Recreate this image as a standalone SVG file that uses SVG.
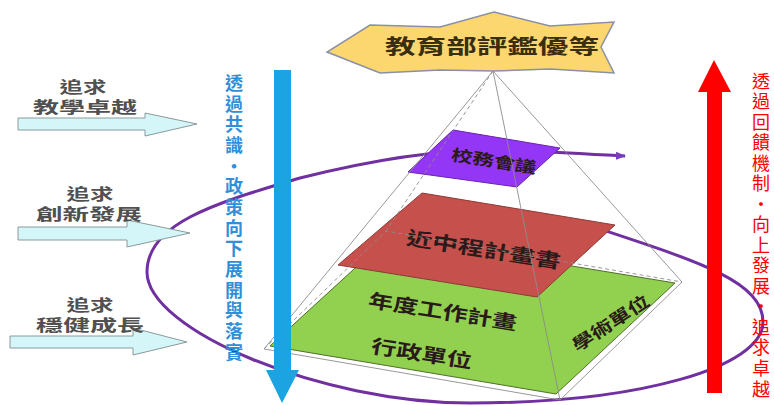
<svg xmlns="http://www.w3.org/2000/svg" width="774" height="405" viewBox="0 0 774 405">
<style>
.lbl{font-family:"Noto Sans CJK TC","Noto Sans CJK SC",sans-serif;font-weight:bold;fill:#505050;font-size:16px;text-anchor:middle;dominant-baseline:central}
.lay{font-family:"Noto Sans CJK TC","Noto Sans CJK SC",sans-serif;font-weight:bold;fill:#2a1a1a;text-anchor:middle;dominant-baseline:central}
.vb{font-family:"Noto Sans CJK TC","Noto Sans CJK SC",sans-serif;font-weight:bold;fill:#2f8fd8;font-size:18px;text-anchor:middle;dominant-baseline:central}
.vr{font-family:"Noto Sans CJK TC","Noto Sans CJK SC",sans-serif;fill:#ff0000;font-size:18px;text-anchor:middle;dominant-baseline:central}
.inarrow{fill:#d4f6f8;stroke:#8a9a9c;stroke-width:1}
.edge{fill:none;stroke:#8c8c8c;stroke-width:0.9}
</style>
<defs>
<marker id="pa" markerWidth="10" markerHeight="8" refX="9" refY="4" orient="auto" markerUnits="userSpaceOnUse" viewBox="0 0 10 8">
<path d="M0,0 L10,4 L0,8 z" fill="#7a3cc0"/>
</marker>
</defs>
<rect width="774" height="405" fill="#ffffff"/>

<g id="connectors">
<path d="M600,229 C700,262 763,282 763,322 C763,367 640,403 470,403 C320,403 147,330 147,272 C147,222 220,202 300,178 C340,168 420,150 490,150 C540,150 590,155 625,156" fill="none" stroke="#7030a0" stroke-width="3" marker-end="url(#pa)"/>
</g>

<g id="pyramid-layers">
<g id="layer-green">
<polygon points="270,346 390,236 675,283 556,394" fill="#92d050" stroke="#4f6e2a" stroke-width="1"/>
<text class="lay" font-size="19" transform="translate(443,310) rotate(9)" textLength="150" lengthAdjust="spacingAndGlyphs">年度工作計畫</text>
<text class="lay" font-size="19" transform="translate(422,352) rotate(9)" textLength="102" lengthAdjust="spacingAndGlyphs">行政單位</text>
<text class="lay" font-size="17" transform="translate(610,322) rotate(-33)" textLength="88" lengthAdjust="spacingAndGlyphs">學術單位</text>
</g>
<g id="layer-red">
<polygon points="338,265 422,193 615,225 537,297" fill="#c6504c" stroke="#8c3a37" stroke-width="1"/>
<text class="lay" font-size="19" transform="translate(484,248) rotate(9)" textLength="156" lengthAdjust="spacingAndGlyphs">近中程計畫書</text>
</g>
<g id="layer-purple">
<polygon points="408,172 453,130 560,148 517,187" fill="#9436f5" stroke="#6a22b0" stroke-width="1"/>
<text class="lay" font-size="16" transform="translate(494,160) rotate(9)" textLength="86" lengthAdjust="spacingAndGlyphs">校務會議</text>
</g>
</g>

<g id="pyramid-edges">
<path class="edge" d="M493,71 L264,349 L560,400 L682,282 L493,71 M493,71 L560,400"/>
<path class="edge" d="M493,71 L386,231 M264,349 L386,231 L682,282" stroke-dasharray="4,3"/>
</g>

<g id="star">
<polygon points="494,12 550,26 614,22 601,47 614,73 550,69 494,71 440,70 380,73 327,52 370,25 440,27" fill="#fcd66e" stroke="#8a90a6" stroke-width="1.5"/>
<text class="lay" font-size="20" x="492" y="45" textLength="214" lengthAdjust="spacingAndGlyphs" style="fill:#3a2e10">教育部評鑑優等</text>
</g>

<g id="goal1">
<polygon class="inarrow" points="18,118 145,118 145,113 197,124 145,136 145,130 18,130"/>
<text class="lbl" x="83" y="86" textLength="47" lengthAdjust="spacingAndGlyphs">追求</text>
<text class="lbl" x="85" y="106" textLength="104" lengthAdjust="spacingAndGlyphs">教學卓越</text>
</g>
<g id="goal2">
<polygon class="inarrow" points="18,227 127,227 127,220 190,233 127,247 127,240 18,240"/>
<text class="lbl" x="90" y="193" textLength="47" lengthAdjust="spacingAndGlyphs">追求</text>
<text class="lbl" x="89" y="213" textLength="106" lengthAdjust="spacingAndGlyphs">創新發展</text>
</g>
<g id="goal3">
<polygon class="inarrow" points="10,336 133,336 133,328 187,342 133,355 133,348 10,348"/>
<text class="lbl" x="90" y="304" textLength="47" lengthAdjust="spacingAndGlyphs">追求</text>
<text class="lbl" x="90" y="324" textLength="108" lengthAdjust="spacingAndGlyphs">穩健成長</text>
</g>

<g id="down-arrow">
<polygon points="274,70 291,70 291,370 299,370 282,403 266,370 274,370" fill="#1ca3e2"/>
<text class="vb"><tspan x="234" y="82">透</tspan><tspan x="234" y="103">過</tspan><tspan x="234" y="123">共</tspan><tspan x="234" y="144">識</tspan><tspan x="234" y="165">・</tspan><tspan x="234" y="185">政</tspan><tspan x="234" y="206">策</tspan><tspan x="234" y="227">向</tspan><tspan x="234" y="247">下</tspan><tspan x="234" y="268">展</tspan><tspan x="234" y="289">開</tspan><tspan x="234" y="309">與</tspan><tspan x="234" y="330">落</tspan><tspan x="234" y="351">實</tspan></text>
</g>

<g id="up-arrow">
<polygon points="714,60 731,92 722,92 722,393 707,393 707,92 698,92" fill="#ff0000"/>
<text class="vr"><tspan x="761" y="80">透</tspan><tspan x="761" y="100">過</tspan><tspan x="761" y="121">回</tspan><tspan x="761" y="141">饋</tspan><tspan x="761" y="162">機</tspan><tspan x="761" y="182">制</tspan><tspan x="761" y="203">・</tspan><tspan x="761" y="223">向</tspan><tspan x="761" y="244">上</tspan><tspan x="761" y="264">發</tspan><tspan x="761" y="285">展</tspan><tspan x="761" y="305">・</tspan><tspan x="761" y="326">追</tspan><tspan x="761" y="346">求</tspan><tspan x="761" y="367">卓</tspan><tspan x="761" y="388">越</tspan></text>
</g>
</svg>
